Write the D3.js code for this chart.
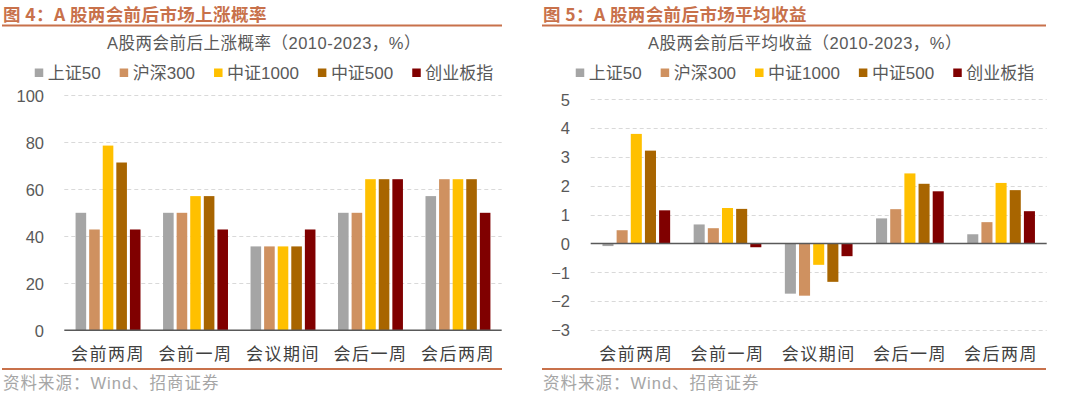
<!DOCTYPE html>
<html>
<head>
<meta charset="utf-8">
<script src="https://cdn.jsdelivr.net/npm/d3@7"></script>
<style>
  html, body { margin: 0; padding: 0; background: #fff; }
  svg { display: block; font-family: "Liberation Sans", Arial, "Noto Sans CJK SC", sans-serif; }
</style>
</head>
<body>
<svg id="chart" width="1080" height="399"></svg>
<script>
const categories = ["会前两周", "会前一周", "会议期间", "会后一周", "会后两周"];
const seriesNames = ["上证50", "沪深300", "中证1000", "中证500", "创业板指"];
const colors = ["#A5A5A5", "#CF9160", "#FFC000", "#A86500", "#800000"];

// 上涨概率 (%), one array per index, in category order
const upProb = [
  [50.0, 50.0, 35.7, 50.0, 57.1],
  [42.9, 50.0, 35.7, 50.0, 64.3],
  [78.6, 57.1, 35.7, 64.3, 64.3],
  [71.4, 57.1, 35.7, 64.3, 64.3],
  [42.9, 42.9, 42.9, 64.3, 50.0]
];
// 平均收益 (%)
const avgRet = [
  [-0.09, 0.66, -1.74, 0.87, 0.32],
  [0.46, 0.53, -1.81, 1.19, 0.74],
  [3.80, 1.23, -0.74, 2.43, 2.10],
  [3.22, 1.20, -1.33, 2.07, 1.85],
  [1.15, -0.13, -0.44, 1.81, 1.12]
];
const ticksLeft = [0, 20, 40, 60, 80, 100];
const ticksRight = [-3, -2, -1, 0, 1, 2, 3, 4, 5];

const svg = d3.select("#chart");
const accent = "#C8714B";
const cjk = "'Noto Sans CJK SC', sans-serif";

const panels = [
  {
    x0: 0, title: "图 4：A 股两会前后市场上涨概率", sub: "A股两会前后上涨概率（2010-2023，%）",
    values: upProb, domain: [0, 100], ticks: ticksLeft,
    plot: { left: 64.3, right: 501.7, top: 95.3, bottom: 330.3 }, labelX: 44, lineRight: 502, center: 264
  },
  {
    x0: 540, title: "图 5：A 股两会前后市场平均收益", sub: "A股两会前后平均收益（2010-2023，%）",
    values: avgRet, domain: [-3, 5], ticks: ticksRight,
    plot: { left: 590.7, right: 1046.7, top: 99.3, bottom: 330 }, labelX: 570, lineRight: 1046, center: 805
  }
];

panels.forEach((p) => {
  const g = svg.append("g");

  // header
  g.append("text").attr("x", p.x0 + 3).attr("y", 21)
    .attr("fill", accent).attr("font-size", 17.5).attr("font-weight", "bold")
    .attr("letter-spacing", 0.4).attr("font-family", cjk).text(p.title);
  g.append("line").attr("x1", p.x0 + 2).attr("x2", p.lineRight).attr("y1", 25.5).attr("y2", 25.5)
    .attr("stroke", accent).attr("stroke-width", 2);

  g.append("text").attr("x", p.center).attr("y", 49).attr("text-anchor", "middle")
    .attr("fill", "#595959").attr("font-size", 16.5).attr("letter-spacing", 0.5).text(p.sub);

  // legend, centered
  const leg = g.append("g");
  let cx = 0;
  seriesNames.forEach((name, i) => {
    const item = leg.append("g").attr("transform", `translate(${cx},0)`);
    item.append("rect").attr("x", 0).attr("y", 68.5).attr("width", 8.5).attr("height", 8.5).attr("fill", colors[i]);
    const t = item.append("text").attr("x", 13).attr("y", 79).attr("fill", "#595959")
      .attr("font-size", 17).text(name);
    cx += 13 + t.node().getComputedTextLength() + 19;
  });
  const legW = cx - 19;
  leg.attr("transform", `translate(${p.center - legW / 2},0)`);

  // scales
  const x = d3.scaleBand().domain(categories).range([p.plot.left, p.plot.right]);
  const xs = d3.scaleBand().domain(seriesNames).range([0, x.bandwidth()]).paddingInner(0.22).paddingOuter(0.83);
  const y = d3.scaleLinear().domain(p.domain).range([p.plot.bottom, p.plot.top]);

  // y labels
  const yAxis = d3.axisLeft(y).tickValues(p.ticks).tickSize(0).tickPadding(0);
  const ga = g.append("g").attr("transform", `translate(${p.labelX},0)`).call(yAxis);
  ga.select(".domain").remove();
  ga.selectAll("text").attr("fill", "#595959").attr("font-size", 16.5)
    .attr("font-family", "'Liberation Sans', Arial, sans-serif").attr("dy", "0.35em");

  // grid
  g.append("g").selectAll("line").data(p.ticks.filter((t) => t !== 0)).join("line")
    .attr("x1", p.plot.left).attr("x2", p.plot.right)
    .attr("y1", (d) => Math.round(y(d)) + 0.5).attr("y2", (d) => Math.round(y(d)) + 0.5)
    .attr("stroke", "#D9D9D9").attr("stroke-width", 1).attr("stroke-dasharray", "4,3");

  // bars
  seriesNames.forEach((name, i) => {
    g.append("g").selectAll("rect").data(p.values[i]).join("rect")
      .attr("x", (d, j) => x(categories[j]) + xs(name))
      .attr("width", xs.bandwidth())
      .attr("y", (d) => y(Math.max(0, d)))
      .attr("height", (d) => Math.abs(y(d) - y(0)))
      .attr("fill", colors[i]);
  });

  // zero line
  g.append("line").attr("x1", p.plot.left).attr("x2", p.plot.right)
    .attr("y1", y(0)).attr("y2", y(0)).attr("stroke", "#595959").attr("stroke-width", 1.5);

  // category labels
  const xAxis = d3.axisBottom(x).tickSize(0).tickPadding(0);
  const gx = g.append("g").call(xAxis);
  gx.select(".domain").remove();
  gx.selectAll("text").attr("y", 360).attr("dy", 0).attr("fill", "#404040")
    .attr("font-size", 17).attr("letter-spacing", 1.5).attr("font-family", cjk);

  // footer
  g.append("line").attr("x1", p.x0 + 2).attr("x2", p.lineRight).attr("y1", 369).attr("y2", 369)
    .attr("stroke", accent).attr("stroke-width", 1.8);
  g.append("text").attr("x", p.x0 + 3).attr("y", 389).attr("fill", "#A6A6A6")
    .attr("font-size", 16.5).attr("letter-spacing", 1).text("资料来源：Wind、招商证券");
});
</script>
</body>
</html>
